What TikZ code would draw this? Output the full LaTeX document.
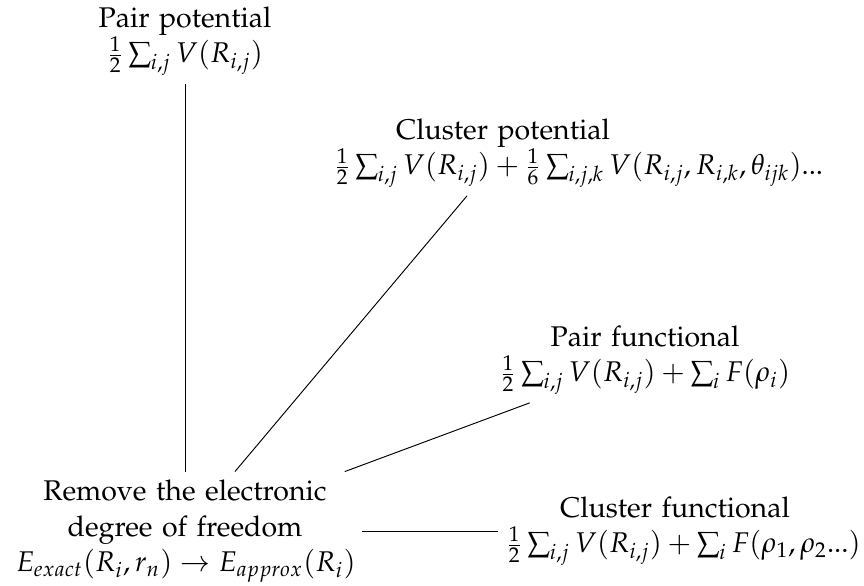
\documentclass[tikz,border=0pt]{standalone}
\usepackage[T1]{fontenc}
\usepackage{mathpazo}
\begin{document}
\begin{tikzpicture}[x=0.4211pt,y=-0.4211pt,
  box/.style={text width=5cm, align=center, font=\fontsize{12}{15}\selectfont},
  link/.style={draw=black, line width=0.4pt}]
\useasboundingbox (0,0) rectangle (864,586);
\node[box] (pp) at (185,41) {Pair potential\\ \mbox{$\frac{1}{2}\sum_{i,j} V(R_{i,j})$}};
\node[box] (cp) at (503,153) {Cluster potential\\ \mbox{$\frac{1}{2}\sum_{i,j} V(R_{i,j}) + \frac{1}{6}\sum_{i,j,k} V(R_{i,j},R_{i,k},\theta_{ijk})...$}};
\node[box] (pf) at (645,360) {Pair functional\\ \mbox{$\frac{1}{2}\sum_{i,j} V(R_{i,j}) + \sum_{i} F(\rho_i)$}};
\node[box] (cf) at (675,531) {Cluster functional\\ \mbox{$\frac{1}{2}\sum_{i,j} V(R_{i,j}) + \sum_{i} F(\rho_1,\rho_2...)$}};
\node[box] (rem) at (185,531) {Remove the electronic degree of freedom\\ \mbox{$E_{exact}(R_i,r_n)\rightarrow E_{approx}(R_i)$}};
\draw[link] (rem) -- (pp);
\draw[link] (rem) -- (cp);
\draw[link] (rem) -- (pf);
\draw[link] (rem) -- (cf);
\end{tikzpicture}
\end{document}
